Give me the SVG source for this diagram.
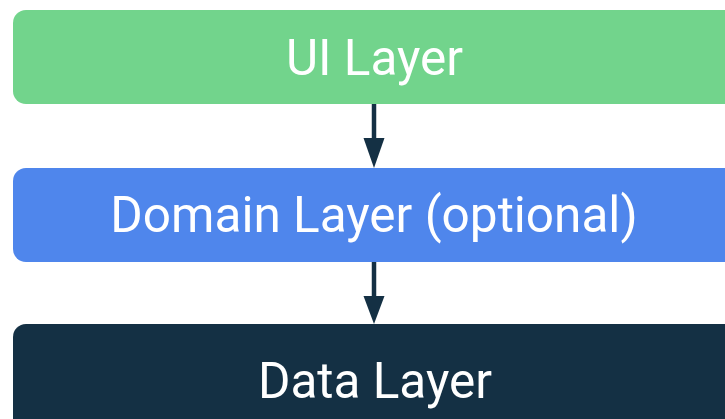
<svg xmlns="http://www.w3.org/2000/svg" width="725" height="419" viewBox="0 0 725 419">
<defs>
<style>
.lbl{font-family:Roboto,"Open Sans",sans-serif;font-size:49.5px;fill:#ffffff;text-anchor:middle}
.conn{stroke:#143044;stroke-width:4.5;fill:none}
.head{fill:#143044}
</style>
</defs>
<rect width="725" height="419" fill="#ffffff"/>
<g id="ui-layer">
<rect x="13" y="10" width="740" height="94" rx="13" fill="#72D48C"/>
<text class="lbl" x="374.5" y="75">UI Layer</text>
</g>
<g id="domain-layer">
<rect x="13" y="168" width="740" height="94" rx="13" fill="#4F86EC"/>
<text class="lbl" x="374" y="232">Domain Layer (optional)</text>
</g>
<g id="data-layer">
<rect x="13" y="324" width="740" height="130" rx="13" fill="#143044"/>
<text class="lbl" x="375" y="398">Data Layer</text>
</g>
<g id="connectors">
<line class="conn" x1="374" y1="104" x2="374" y2="142"/>
<polygon class="head" points="363.5,138 384.5,138 374,168"/>
<line class="conn" x1="374" y1="262" x2="374" y2="300"/>
<polygon class="head" points="363.5,296 384.5,296 374,324"/>
</g>
</svg>
